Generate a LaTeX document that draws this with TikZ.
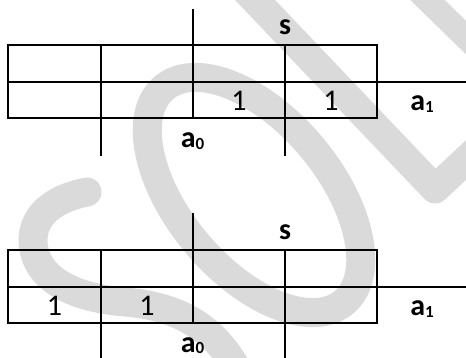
\documentclass[tikz,border=0pt]{standalone}
\usepackage{fontspec}
\setmainfont{Carlito}
\definecolor{wmgray}{RGB}{218,218,218}
\newcommand{\sbs}[1]{\raisebox{-0.04em}{\fontsize{17}{17}\selectfont #1}}
\tikzset{
  wm/.style={draw=wmgray, line cap=round, line join=round, line width=29pt},
  tbl/.style={draw=black, line width=2.2pt},
  num/.style={anchor=base, inner sep=0pt, font=\fontsize{30}{34}\selectfont},
  lbl/.style={anchor=base, inner sep=0pt, font=\fontsize{30}{34}\selectfont\bfseries}
}
\begin{document}
\begin{tikzpicture}[x=1pt,y=-1pt]
\useasboundingbox (0,0) rectangle (466,358);
% watermark
\begin{scope}
  \clip (0,0) rectangle (466,358);
  \draw[wm] (87,192) .. controls (55,198) and (32,215) .. (33,242)
            .. controls (35,280) and (75,298) .. (125,302)
            .. controls (175,306) and (215,325) .. (240,375);
  \draw[wm, rotate around={-50:(254,195)}] (254,195) ellipse [x radius=140, y radius=75];
  \draw[wm] (236,-20) -- (435,189) -- (495,133);
  \draw[wm, line width=24pt] (407,-20) -- (490,61);
\end{scope}
% top map
\draw[tbl] (8,45) rectangle (377,118);
\draw[tbl] (8,82) -- (466,82);
\draw[tbl] (101,45) -- (101,155.7);
\draw[tbl] (193,9) -- (193,118);
\draw[tbl] (285,45) -- (285,155.7);
\node[lbl] (s1) at (285,35) {s};
\node[num] (t13) at (239,111) {1};
\node[num] (t14) at (331,111) {1};
\node[lbl] (a1t) at (422,111) {a\sbs{1}};
\node[lbl] (a0t) at (192.5,148) {a\sbs{0}};
% bottom map
\begin{scope}[shift={(0,205)}]
\draw[tbl] (8,45) rectangle (377,118);
\draw[tbl] (8,82) -- (466,82);
\draw[tbl] (101,45) -- (101,160);
\draw[tbl] (193,8) -- (193,118);
\draw[tbl] (285,45) -- (285,160);
\node[lbl] (s2) at (285,35) {s};
\node[num] (b11) at (54.5,111) {1};
\node[num] (b12) at (147,111) {1};
\node[lbl] (a1b) at (422,111) {a\sbs{1}};
\node[lbl] (a0b) at (192.5,147) {a\sbs{0}};
\end{scope}
\end{tikzpicture}
\end{document}
